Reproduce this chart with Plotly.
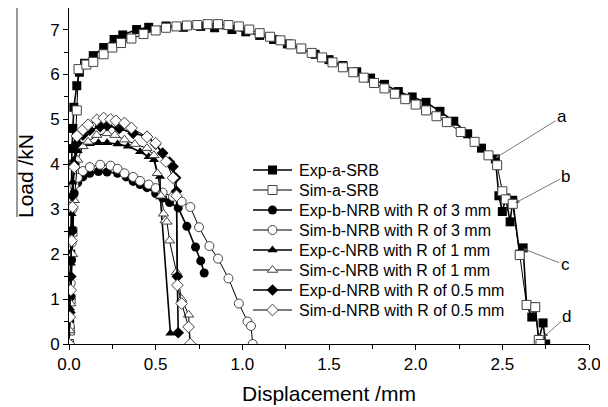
import plotly.graph_objects as go

# Exp / Sim load-displacement curves
exp_a_x = [0.0, 0.01, 0.017, 0.022, 0.028, 0.045, 0.06, 0.09, 0.14, 0.2, 0.26, 0.31, 0.39, 0.46, 0.56,
           0.66, 0.76, 0.84, 0.94, 1.02, 1.1, 1.18, 1.26, 1.34, 1.42, 1.5, 1.58, 1.66, 1.74, 1.82, 1.9,
           1.98, 2.06, 2.14, 2.22, 2.3, 2.38, 2.46, 2.48, 2.5, 2.52, 2.545, 2.56, 2.6, 2.62, 2.64, 2.67,
           2.69, 2.71, 2.735, 2.75]
exp_a_y = [0.0, 2.0, 4.35, 4.8, 5.27, 5.75, 6.05, 6.25, 6.42, 6.6, 6.78, 6.88, 7.0, 7.05, 7.08,
           7.05, 7.07, 7.04, 7.0, 6.95, 6.87, 6.78, 6.68, 6.57, 6.45, 6.33, 6.2, 6.06, 5.92, 5.78, 5.62,
           5.5, 5.38, 5.18, 4.96, 4.68, 4.36, 4.12, 3.3, 2.95, 3.25, 2.72, 3.2, 2.0, 2.14, 0.87, 0.6,
           0.82, 0.09, 0.47, 0.0]

sim_a_x = [0.0, 0.005, 0.01, 0.02, 0.03, 0.045, 0.055, 0.1, 0.14, 0.2, 0.25, 0.3, 0.36, 0.43, 0.5,
           0.56, 0.62, 0.68, 0.74, 0.8, 0.86, 0.92, 0.98, 1.04, 1.1, 1.16, 1.22, 1.28, 1.34, 1.4, 1.46,
           1.52, 1.58, 1.64, 1.7, 1.76, 1.82, 1.88, 1.94, 2.0, 2.06, 2.12, 2.18, 2.26, 2.34, 2.42, 2.47,
           2.5, 2.52, 2.56, 2.6, 2.64, 2.69, 2.71, 2.72]
sim_a_y = [0.0, 0.3, 1.0, 2.5, 4.0, 5.2, 6.12, 6.22, 6.28, 6.45, 6.6, 6.7, 6.8, 6.9, 6.98,
           7.04, 7.07, 7.09, 7.1, 7.12, 7.12, 7.1, 7.07, 7.0, 6.92, 6.84, 6.76, 6.67, 6.58, 6.48, 6.38,
           6.27, 6.16, 6.05, 5.93, 5.81, 5.69, 5.57, 5.45, 5.33, 5.2, 5.07, 4.94, 4.72, 4.5, 4.2, 3.98,
           3.4, 3.22, 3.12, 1.98, 0.87, 0.82, 0.09, 0.0]

exp_b_x = [0.0, 0.005, 0.01, 0.015, 0.02, 0.03, 0.05, 0.08, 0.12, 0.17, 0.22, 0.28, 0.33, 0.37,
           0.41, 0.45, 0.5, 0.54, 0.58, 0.63, 0.68, 0.73, 0.76, 0.78]
exp_b_y = [0.0, 0.5, 1.05, 1.87, 2.54, 3.36, 3.59, 3.72, 3.8, 3.84, 3.83, 3.8, 3.72, 3.62,
           3.55, 3.48, 3.35, 3.25, 3.15, 3.03, 2.62, 2.16, 1.85, 1.58]

sim_b_x = [0.0, 0.005, 0.01, 0.015, 0.02, 0.03, 0.05, 0.08, 0.12, 0.18, 0.24, 0.28, 0.32, 0.37,
           0.41, 0.46, 0.5, 0.54, 0.6, 0.65, 0.7, 0.75, 0.81, 0.86, 0.92, 0.98, 1.03, 1.05, 1.06]
sim_b_y = [0.0, 0.4, 1.35, 2.25, 3.0, 3.54, 3.7, 3.85, 3.94, 3.99, 3.97, 3.9, 3.8, 3.72,
           3.63, 3.55, 3.47, 3.37, 3.28, 3.17, 3.05, 2.6, 2.18, 1.9, 1.46, 0.9, 0.5, 0.4, 0.0]

exp_c_x = [0.0, 0.005, 0.01, 0.015, 0.02, 0.03, 0.05, 0.08, 0.12, 0.17, 0.22, 0.28, 0.34, 0.41,
           0.46, 0.49, 0.51, 0.525, 0.527, 0.585]
exp_c_y = [0.0, 0.8, 1.8, 2.9, 3.6, 4.1, 4.3, 4.4, 4.46, 4.48, 4.48, 4.45, 4.4, 4.28,
           4.17, 4.1, 3.8, 3.73, 3.27, 0.24]

sim_c_x = [0.0, 0.005, 0.01, 0.02, 0.03, 0.05, 0.08, 0.11, 0.16, 0.22, 0.265, 0.32, 0.38, 0.45,
           0.49, 0.51, 0.53, 0.545, 0.555, 0.565, 0.58, 0.62, 0.65, 0.69, 0.7]
sim_c_y = [0.0, 0.3, 0.9, 2.0, 3.2, 4.1, 4.4, 4.5, 4.65, 4.69, 4.65, 4.55, 4.45, 4.36,
           4.2, 3.8, 3.3, 2.9, 2.75, 2.72, 2.3, 1.6, 1.0, 0.65, 0.0]

exp_d_x = [0.0, 0.005, 0.01, 0.015, 0.02, 0.03, 0.046, 0.08, 0.12, 0.18, 0.22, 0.29, 0.37, 0.45,
           0.5, 0.54, 0.58, 0.6, 0.615, 0.62, 0.625, 0.63]
exp_d_y = [0.0, 0.7, 1.5, 2.5, 3.3, 4.0, 4.47, 4.65, 4.76, 4.84, 4.86, 4.8, 4.69, 4.62,
           4.45, 4.25, 4.05, 3.95, 3.7, 3.4, 1.5, 0.25]

sim_d_x = [0.0, 0.005, 0.01, 0.015, 0.02, 0.03, 0.046, 0.08, 0.11, 0.16, 0.2, 0.24, 0.27, 0.32,
           0.36, 0.45, 0.5, 0.56, 0.6, 0.62, 0.625, 0.65, 0.69, 0.7]
sim_d_y = [0.0, 0.6, 1.2, 2.3, 3.05, 3.94, 4.63, 4.77, 4.88, 4.99, 5.03, 5.0, 4.97, 4.92,
           4.81, 4.61, 4.47, 4.06, 3.7, 3.3, 1.31, 0.9, 0.38, 0.0]

names = ["Exp-a-SRB", "Sim-a-SRB",
         "Exp-b-NRB with R of 3 mm", "Sim-b-NRB with R of 3 mm",
         "Exp-c-NRB with R of 1 mm", "Sim-c-NRB with R of 1 mm",
         "Exp-d-NRB with R of 0.5 mm", "Sim-d-NRB with R of 0.5 mm"]

# crack points marked a-d: label position and arrow tip
label_text = ["a", "b", "c", "d"]
label_x = [2.845, 2.866, 2.862, 2.873]
label_y = [5.06, 3.74, 1.76, 0.62]
tip_x = [2.46, 2.575, 2.62, 2.74]
tip_y = [4.14, 3.14, 2.12, 0.16]

series = [
    (exp_a_x, exp_a_y, "square", True),
    (sim_a_x, sim_a_y, "square-open", False),
    (exp_b_x, exp_b_y, "circle", True),
    (sim_b_x, sim_b_y, "circle-open", False),
    (exp_c_x, exp_c_y, "triangle-up", True),
    (sim_c_x, sim_c_y, "triangle-up-open", False),
    (exp_d_x, exp_d_y, "diamond", True),
    (sim_d_x, sim_d_y, "diamond-open", False),
]

# page body has an 8px margin, so the figure is drawn 8px smaller and coordinates
# below are window pixels of the plot area
OFF = 8
W, H = 608 - OFF, 407 - OFF
L, R, T, B = 69, 589, 8, 344
leg_x0, leg_x1, leg_text_x = 253, 292, 297
leg_row0, leg_step = 170, 20


def style(sym, filled):
    if filled:
        marker = dict(symbol=sym, size=9, color="black", line=dict(color="black", width=0))
    else:
        marker = dict(symbol=sym.replace("-open", ""), size=9, color="white",
                      line=dict(color="#444", width=1))
    line = dict(color="black", width=1.6 if filled else 1)
    return marker, line


fig = go.Figure()
for (xs, ys, sym, filled), name in zip(series, names):
    marker, line = style(sym, filled)
    fig.add_trace(go.Scatter(x=xs, y=ys, name=name, mode="lines+markers",
                             line=line, marker=marker, showlegend=False))

for i, ((xs, ys, sym, filled), name) in enumerate(zip(series, names)):
    marker, line = style(sym, filled)
    row = leg_row0 + i * leg_step
    marker["opacity"] = [0, 1, 0]
    fig.add_trace(go.Scatter(
        x=[leg_x0, (leg_x0 + leg_x1) / 2, leg_x1], y=[row] * 3, mode="lines+markers",
        xaxis="x2", yaxis="y2", line=line, marker=marker, showlegend=False, hoverinfo="skip"
    ))
    fig.add_annotation(x=leg_text_x, y=row, xref="x2", yref="y2", text=name, showarrow=False,
                       xanchor="left", yanchor="middle", font=dict(size=16, color="black"))

for t, lx, ly, px, py in zip(label_text, label_x, label_y, tip_x, tip_y):
    fig.add_annotation(
        x=px, y=py, ax=lx, ay=ly, axref="x", ayref="y", xref="x", yref="y",
        text=t, showarrow=True, arrowhead=2, arrowsize=1, arrowwidth=0.8,
        arrowcolor="#555", font=dict(size=17, color="black")
    )

# bar over the y title, as in the source figure
fig.add_shape(type="line", xref="paper", yref="paper", x0=(17 - L) / (R - L), x1=(17 - L) / (R - L),
              y0=(B - 217) / (B - T), y1=1.0, line=dict(color="#333", width=1))

fig.update_layout(
    width=W, height=H,
    margin=dict(l=L - OFF, r=W - (R - OFF), t=T - OFF, b=H - (B - OFF)),
    paper_bgcolor="white", plot_bgcolor="white",
    font=dict(family="Liberation Sans, Arial", color="black"),
    xaxis=dict(
        range=[0, 3.0], dtick=0.5, tickformat=".1f", automargin=False,
        title=dict(text="Displacement /mm", font=dict(size=21), standoff=12),
        showgrid=False, zeroline=False, showline=True, linecolor="black", linewidth=1,
        ticks="outside", ticklen=5, tickcolor="black", tickfont=dict(size=17),
        minor=dict(dtick=0.25, ticks="outside", ticklen=4, tickcolor="black")
    ),
    yaxis=dict(
        range=[0, 7.48], dtick=1, tickvals=[0, 1, 2, 3, 4, 5, 6, 7], automargin=False,
        title=dict(text="Load /kN", font=dict(size=21), standoff=10),
        showgrid=False, zeroline=False, showline=True, linecolor="black", linewidth=1,
        ticks="outside", ticklen=5, tickcolor="black", tickfont=dict(size=17),
        minor=dict(dtick=0.5, ticks="outside", ticklen=4, tickcolor="black")
    ),
    xaxis2=dict(range=[L, R], overlaying="x", visible=False, fixedrange=True),
    yaxis2=dict(range=[B, T], overlaying="y", visible=False, fixedrange=True),
)

fig.write_html("out.html")
